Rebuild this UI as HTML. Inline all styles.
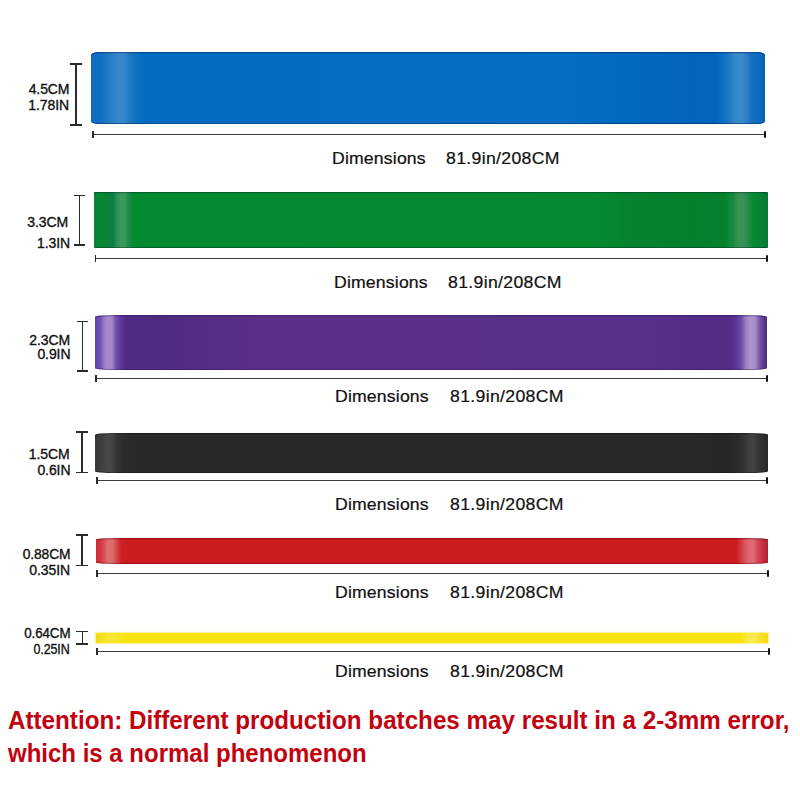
<!DOCTYPE html>
<html><head><meta charset="utf-8"><style>
html,body{margin:0;padding:0;background:#fff;}
body{width:800px;height:800px;position:relative;overflow:hidden;font-family:"Liberation Sans",Arial,sans-serif;}
.t{position:absolute;white-space:nowrap;}
.b{position:absolute;}
.k{position:absolute;background:#2b2b2b;}
</style></head><body>
<div class="b" style="left:91.4px;top:51.6px;width:673.20px;height:72.30px;border-radius:7px / 3px;background:linear-gradient(90deg,#0f6bc0 0px,#106ec3 10px,#1a75c6 14px,#2b82ca 22px,#3889cb 28px,#3587ca 33px,#1f7ac5 39px,#0a70c1 46px,#036dc0 54px,#046ec1 480px,#0268bc 560px,#0265b9 600px,#0366ba 626px,#1876c4 636px,#3387c8 644px,#3889c8 651px,#2a7ec5 656px,#146fc1 661px,#0e6bc0 669px,#0a60b2 673.2px);box-shadow:inset 0 1.3px 0 rgba(0,30,80,0.45),inset 0 -1px 0 rgba(0,30,80,0.45);"></div>
<div class="k" style="left:75.20px;top:64.00px;width:1.6px;height:61.00px;"></div>
<div class="k" style="left:70.00px;top:63.10px;width:11.50px;height:1.8px;"></div>
<div class="k" style="left:70.00px;top:124.10px;width:11.50px;height:1.8px;"></div>
<div class="t" style="top:81.75px;font-size:14.0px;line-height:14.0px;font-weight:normal;color:#111;letter-spacing:-0.1px;right:730.60px;text-align:right;-webkit-text-stroke:0.35px #111;">4.5CM</div>
<div class="t" style="top:98.45px;font-size:14.0px;line-height:14.0px;font-weight:normal;color:#111;letter-spacing:-0.1px;right:731.00px;text-align:right;-webkit-text-stroke:0.35px #111;">1.78IN</div>
<div class="k" style="left:93.00px;top:133.60px;width:671.60px;height:1.4px;background:#3a3a3a;"></div>
<div class="k" style="left:92.40px;top:130.80px;width:1.6px;height:7px;"></div>
<div class="k" style="left:763.60px;top:130.80px;width:2px;height:7px;border-radius:1px;background:#111;"></div>
<div class="t" style="top:149.93px;font-size:16.5px;line-height:16.5px;font-weight:normal;color:#111;letter-spacing:0.15px;left:332.40px;transform:scaleX(1.07);transform-origin:0 0;-webkit-text-stroke:0.22px #111;">Dimensions</div>
<div class="t" style="top:149.93px;font-size:16.5px;line-height:16.5px;font-weight:normal;color:#111;letter-spacing:0.3px;left:445.80px;transform:scaleX(1.07);transform-origin:0 0;-webkit-text-stroke:0.22px #111;">81.9in/208CM</div>
<div class="b" style="left:94.2px;top:191.8px;width:673.60px;height:55.90px;border-radius:1px;background:linear-gradient(90deg,#07843a 0px,#058833 6px,#0c8240 16px,#107d47 19px,#2a9058 23px,#3a9c5e 27px,#36995a 31px,#1c8c48 35px,#048a30 40px,#068a30 500px,#05822e 540px,#047f2c 600px,#06802e 631px,#168c40 639px,#3a9258 645px,#3a9258 650px,#1e8c45 655px,#068930 659px,#068234 666px,#067a32 673.6px);box-shadow:inset 0 1.3px 0 rgba(0,40,20,0.4),inset 0 -1px 0 rgba(0,40,20,0.4);"></div>
<div class="k" style="left:78.80px;top:195.60px;width:1.6px;height:49.40px;"></div>
<div class="k" style="left:73.50px;top:194.70px;width:11.00px;height:1.8px;"></div>
<div class="k" style="left:73.50px;top:244.10px;width:11.00px;height:1.8px;"></div>
<div class="t" style="top:214.55px;font-size:14.0px;line-height:14.0px;font-weight:normal;color:#111;letter-spacing:-0.1px;right:732.00px;text-align:right;-webkit-text-stroke:0.35px #111;">3.3CM</div>
<div class="t" style="top:235.75px;font-size:14.0px;line-height:14.0px;font-weight:normal;color:#111;letter-spacing:-0.1px;right:730.00px;text-align:right;-webkit-text-stroke:0.35px #111;">1.3IN</div>
<div class="k" style="left:95.20px;top:257.80px;width:671.50px;height:1.4px;background:#3a3a3a;"></div>
<div class="k" style="left:94.60px;top:255.00px;width:1.6px;height:7px;"></div>
<div class="k" style="left:765.70px;top:255.00px;width:2px;height:7px;border-radius:1px;background:#111;"></div>
<div class="t" style="top:273.93px;font-size:16.5px;line-height:16.5px;font-weight:normal;color:#111;letter-spacing:0.15px;left:334.40px;transform:scaleX(1.07);transform-origin:0 0;-webkit-text-stroke:0.22px #111;">Dimensions</div>
<div class="t" style="top:273.93px;font-size:16.5px;line-height:16.5px;font-weight:normal;color:#111;letter-spacing:0.3px;left:448.00px;transform:scaleX(1.07);transform-origin:0 0;-webkit-text-stroke:0.22px #111;">81.9in/208CM</div>
<div class="b" style="left:94.6px;top:315.4px;width:672.40px;height:55.00px;border-radius:20px / 2px;background:linear-gradient(90deg,#6242a6 0px,#7050b4 5px,#9878c6 9px,#a98bcd 12.5px,#a386c9 17px,#7050aa 21px,#5c3898 26px,#512c84 31px,#502b82 70px,#5a3089 160px,#5a3189 400px,#58308a 560px,#532c85 600px,#552d86 636px,#5c3898 641px,#6a4aa5 646px,#9a80c0 651px,#ad95c9 655px,#a890c8 660px,#8a6ab8 663px,#6a4aa0 666px,#56368a 669.5px,#46296f 672.4px);box-shadow:inset 0 1.3px 0 rgba(40,10,80,0.35),inset 0 -1px 0 rgba(40,10,80,0.35);"></div>
<div class="k" style="left:81.60px;top:321.60px;width:1.6px;height:49.40px;"></div>
<div class="k" style="left:77.00px;top:320.70px;width:11.00px;height:1.8px;"></div>
<div class="k" style="left:77.00px;top:370.10px;width:11.00px;height:1.8px;"></div>
<div class="t" style="top:332.55px;font-size:14.0px;line-height:14.0px;font-weight:normal;color:#111;letter-spacing:-0.1px;right:730.00px;text-align:right;-webkit-text-stroke:0.35px #111;">2.3CM</div>
<div class="t" style="top:346.75px;font-size:14.0px;line-height:14.0px;font-weight:normal;color:#111;letter-spacing:-0.1px;right:729.60px;text-align:right;-webkit-text-stroke:0.35px #111;">0.9IN</div>
<div class="k" style="left:96.00px;top:377.80px;width:671.00px;height:1.4px;background:#3a3a3a;"></div>
<div class="k" style="left:95.40px;top:375.00px;width:1.6px;height:7px;"></div>
<div class="k" style="left:766.00px;top:375.00px;width:2px;height:7px;border-radius:1px;background:#111;"></div>
<div class="t" style="top:387.93px;font-size:16.5px;line-height:16.5px;font-weight:normal;color:#111;letter-spacing:0.15px;left:335.15px;transform:scaleX(1.07);transform-origin:0 0;-webkit-text-stroke:0.22px #111;">Dimensions</div>
<div class="t" style="top:387.93px;font-size:16.5px;line-height:16.5px;font-weight:normal;color:#111;letter-spacing:0.3px;left:450.00px;transform:scaleX(1.07);transform-origin:0 0;-webkit-text-stroke:0.22px #111;">81.9in/208CM</div>
<div class="b" style="left:95.2px;top:433.0px;width:672.40px;height:40.00px;border-radius:20px / 1.8px;background:linear-gradient(90deg,#383735 0px,#403f3d 7px,#494846 12px,#464543 17px,#353432 22px,#2c2b29 30px,#2a2927 40px,#2a2927 600px,#282725 630px,#2b2a28 641px,#343331 648px,#42413f 655px,#444341 658.5px,#363533 663px,#302f2d 668px,#2a2927 672.4px);box-shadow:inset 0 1.3px 0 rgba(0,0,0,0.25),inset 0 -1px 0 rgba(0,0,0,0.25);"></div>
<div class="k" style="left:81.20px;top:432.00px;width:1.6px;height:40.40px;"></div>
<div class="k" style="left:76.00px;top:431.10px;width:11.60px;height:1.8px;"></div>
<div class="k" style="left:76.00px;top:471.50px;width:11.60px;height:1.8px;"></div>
<div class="t" style="top:447.15px;font-size:14.0px;line-height:14.0px;font-weight:normal;color:#111;letter-spacing:-0.1px;right:730.40px;text-align:right;-webkit-text-stroke:0.35px #111;">1.5CM</div>
<div class="t" style="top:462.55px;font-size:14.0px;line-height:14.0px;font-weight:normal;color:#111;letter-spacing:-0.1px;right:729.60px;text-align:right;-webkit-text-stroke:0.35px #111;">0.6IN</div>
<div class="k" style="left:96.80px;top:479.50px;width:670.50px;height:1.4px;background:#3a3a3a;"></div>
<div class="k" style="left:96.20px;top:476.70px;width:1.6px;height:7px;"></div>
<div class="k" style="left:766.30px;top:476.70px;width:2px;height:7px;border-radius:1px;background:#111;"></div>
<div class="t" style="top:495.78px;font-size:16.5px;line-height:16.5px;font-weight:normal;color:#111;letter-spacing:0.15px;left:335.15px;transform:scaleX(1.07);transform-origin:0 0;-webkit-text-stroke:0.22px #111;">Dimensions</div>
<div class="t" style="top:495.78px;font-size:16.5px;line-height:16.5px;font-weight:normal;color:#111;letter-spacing:0.3px;left:450.00px;transform:scaleX(1.07);transform-origin:0 0;-webkit-text-stroke:0.22px #111;">81.9in/208CM</div>
<div class="b" style="left:95.9px;top:537.8px;width:672.00px;height:26.00px;border-radius:20px / 1.5px;background:linear-gradient(90deg,#cc2838 0px,#d43646 4px,#da4c58 8px,#e07070 12px,#de6868 17px,#d44444 21px,#cc1e24 25.5px,#cb1a20 34px,#cb1a20 640px,#d23238 644px,#da5a62 650px,#de6a72 654px,#dc6870 658px,#d64454 662px,#c82e3e 667px,#aa2232 672px);box-shadow:inset 0 1.3px 0 rgba(110,0,10,0.45),inset 0 -1px 0 rgba(110,0,10,0.45);"></div>
<div class="k" style="left:81.20px;top:535.00px;width:1.6px;height:30.60px;"></div>
<div class="k" style="left:76.40px;top:534.10px;width:11.60px;height:1.8px;"></div>
<div class="k" style="left:76.40px;top:564.70px;width:11.60px;height:1.8px;"></div>
<div class="t" style="top:547.15px;font-size:14.0px;line-height:14.0px;font-weight:normal;color:#111;letter-spacing:-0.1px;right:730.00px;text-align:right;transform:scaleX(0.985);transform-origin:100% 0;-webkit-text-stroke:0.35px #111;">0.88CM</div>
<div class="t" style="top:563.15px;font-size:14.0px;line-height:14.0px;font-weight:normal;color:#111;letter-spacing:-0.1px;right:730.00px;text-align:right;-webkit-text-stroke:0.35px #111;">0.35IN</div>
<div class="k" style="left:97.00px;top:572.70px;width:670.70px;height:1.4px;background:#3a3a3a;"></div>
<div class="k" style="left:96.40px;top:569.90px;width:1.6px;height:7px;"></div>
<div class="k" style="left:766.70px;top:569.90px;width:2px;height:7px;border-radius:1px;background:#111;"></div>
<div class="t" style="top:584.03px;font-size:16.5px;line-height:16.5px;font-weight:normal;color:#111;letter-spacing:0.15px;left:335.15px;transform:scaleX(1.07);transform-origin:0 0;-webkit-text-stroke:0.22px #111;">Dimensions</div>
<div class="t" style="top:584.03px;font-size:16.5px;line-height:16.5px;font-weight:normal;color:#111;letter-spacing:0.3px;left:450.00px;transform:scaleX(1.07);transform-origin:0 0;-webkit-text-stroke:0.22px #111;">81.9in/208CM</div>
<div class="b" style="left:96.0px;top:632.9px;width:671.90px;height:10.30px;border-radius:1px;background:linear-gradient(90deg,#f2d816 0px,#f6e020 6px,#f8e530 12px,#f8e42a 20px,#f8e312 28px,#f8e312 646px,#f9e84a 652px,#f9e852 659px,#f7e22a 664px,#f2d816 671.9px);box-shadow:inset 0 1.3px 0 rgba(200,160,0,0.0),inset 0 -1px 0 rgba(200,160,0,0.0),0 0 1.2px 0.4px rgba(248,226,40,0.55);"></div>
<div class="k" style="left:81.60px;top:631.60px;width:1.6px;height:12.40px;"></div>
<div class="k" style="left:76.40px;top:630.70px;width:12.00px;height:1.8px;"></div>
<div class="k" style="left:76.40px;top:643.10px;width:12.00px;height:1.8px;"></div>
<div class="t" style="top:626.15px;font-size:14.0px;line-height:14.0px;font-weight:normal;color:#111;letter-spacing:-0.1px;right:730.00px;text-align:right;transform:scaleX(0.955);transform-origin:100% 0;-webkit-text-stroke:0.35px #111;">0.64CM</div>
<div class="t" style="top:642.15px;font-size:14.0px;line-height:14.0px;font-weight:normal;color:#111;letter-spacing:-0.1px;right:730.20px;text-align:right;transform:scaleX(0.89);transform-origin:100% 0;-webkit-text-stroke:0.35px #111;">0.25IN</div>
<div class="k" style="left:97.00px;top:650.90px;width:671.50px;height:1.4px;background:#3a3a3a;"></div>
<div class="k" style="left:96.40px;top:648.10px;width:1.6px;height:7px;"></div>
<div class="k" style="left:767.50px;top:648.10px;width:2px;height:7px;border-radius:1px;background:#111;"></div>
<div class="t" style="top:662.78px;font-size:16.5px;line-height:16.5px;font-weight:normal;color:#111;letter-spacing:0.15px;left:335.15px;transform:scaleX(1.07);transform-origin:0 0;-webkit-text-stroke:0.22px #111;">Dimensions</div>
<div class="t" style="top:662.78px;font-size:16.5px;line-height:16.5px;font-weight:normal;color:#111;letter-spacing:0.3px;left:450.00px;transform:scaleX(1.07);transform-origin:0 0;-webkit-text-stroke:0.22px #111;">81.9in/208CM</div>
<div class="t" style="top:706.89px;font-size:26.0px;line-height:26.0px;font-weight:bold;color:#c2020f;letter-spacing:0px;left:7.50px;transform:scaleX(0.931);transform-origin:0 0;">Attention: Different production batches may result in a 2-3mm error,</div>
<div class="t" style="top:739.69px;font-size:26.0px;line-height:26.0px;font-weight:bold;color:#c2020f;letter-spacing:0px;left:8.00px;transform:scaleX(0.923);transform-origin:0 0;">which is a normal phenomenon</div>
</body></html>
